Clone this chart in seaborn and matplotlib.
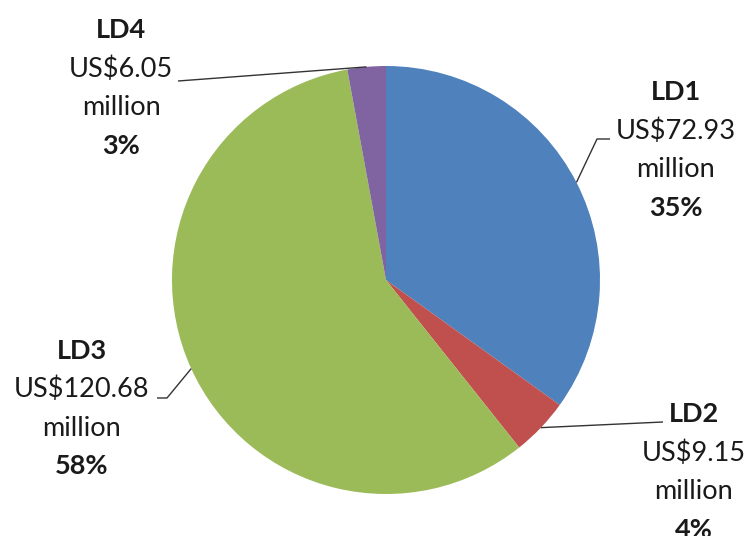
import numpy as np
import matplotlib
matplotlib.use("Agg")
import matplotlib.pyplot as plt
import seaborn as sns

# ---- data ----
categories = ["LD1", "LD2", "LD3", "LD4"]
values = [72.93, 9.15, 120.68, 6.05]          # US$ million
colors = ["#4F81BD", "#C0504D", "#9BBB59", "#8064A2"]

sns.set_theme(style="white")
plt.rcParams["font.family"] = ["Lato", "DejaVu Sans"]

W, H = 750, 536
fig = plt.figure(figsize=(W / 100, H / 100), dpi=100)
ax = fig.add_axes([0, 0, 1, 1])
ax.set_xlim(0, W)
ax.set_ylim(0, H)
ax.set_aspect("equal")
ax.axis("off")

def Y(y):  # image row -> data y
    return H - y

cx, cy, R = 386, 280, 214
wedges, _ = ax.pie(values, colors=colors, startangle=90, counterclock=False,
                   center=(cx, Y(cy)), radius=R, frame=True,
                   wedgeprops=dict(linewidth=0))
ax.set_xlim(0, W)
ax.set_ylim(0, H)
ax.axis("off")

total = sum(values)
pcts = [f"{round(v / total * 100):.0f}%" for v in values]

# label layout: text centre x, first baseline (image px), leader bend points
layout = {
    "LD1": dict(x=676, y0=100, pts=[(597, 139), (610, 139)]),
    "LD2": dict(x=694, y0=422, pts=[(663, 422)]),
    "LD3": dict(x=82, y0=359, pts=[(167, 398), (157, 398)]),
    "LD4": dict(x=121, y0=38, pts=[(178, 81)]),
}
step = 38.5
fs = 19.5
for w, cat, v, p in zip(wedges, categories, values, pcts):
    L = layout[cat]
    lines = [(cat, "bold"), (f"US${v:.2f}", "normal"), ("million", "normal"), (p, "bold")]
    for i, (t, fw) in enumerate(lines):
        ax.text(L["x"], Y(L["y0"] + i * step), t, ha="center", va="baseline",
                fontsize=fs, fontweight=fw, color="#1a1a1a")
    mid = np.deg2rad((w.theta1 + w.theta2) / 2)
    ax_x = cx + R * np.cos(mid)
    ax_y = Y(cy) + R * np.sin(mid)
    xs = [ax_x] + [q[0] for q in L["pts"]]
    ys = [ax_y] + [Y(q[1]) for q in L["pts"]]
    ax.plot(xs, ys, color="#333333", lw=1.0, solid_capstyle="butt")

fig.savefig("out.png", dpi=100)
